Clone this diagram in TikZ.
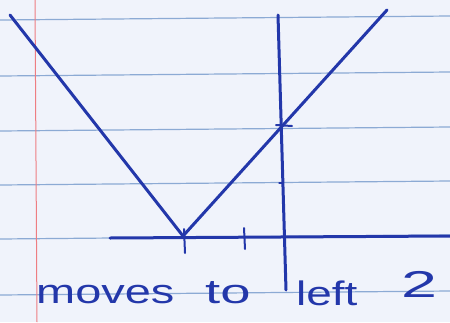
\documentclass[tikz,border=0pt]{standalone}
\usepackage{fontspec}
\usepackage{graphicx}
\setmainfont{Liberation Sans}
\definecolor{ink}{RGB}{35,55,170}
\definecolor{paper}{RGB}{240,243,251}
\definecolor{rulecol}{RGB}{140,170,212}
\definecolor{margincol}{RGB}{238,125,130}
\tikzset{
  inkline/.style={draw=ink,line width=3pt,line cap=round},
  thintick/.style={draw=ink,line width=2pt,line cap=round},
  ruleline/.style={draw=rulecol,line width=1.2pt},
  hand/.style={text=ink,font=\fontsize{34}{34}\selectfont,anchor=base west,inner sep=0pt}
}
\begin{document}
\begin{tikzpicture}[x=1pt,y=-1pt]
\fill[paper] (0,0) rectangle (450,322);
\useasboundingbox (0,0) rectangle (450,322);
% ruled paper
\foreach \yy in {18,74,129,183,237,293}
  \draw[ruleline] (0,\yy+2) -- (450,\yy-2);
\draw[draw=margincol,line width=1pt] (35,0) -- (37,322);
% graph
\coordinate (L) at (10,15);
\coordinate (V) at (183,236);
\coordinate (R) at (387,10);
\coordinate (Ytop) at (278,15);
\coordinate (Ybot) at (286,290);
\coordinate (Xl) at (110,238);
\coordinate (Xr) at (450,236);
\draw[inkline] (Xl) -- (Xr);
\draw[inkline] (Ytop) -- (Ybot);
\draw[inkline] (L) -- (V) -- (R);
\coordinate (T1a) at (184,229); \coordinate (T1b) at (185,253);
\coordinate (T2a) at (244,228); \coordinate (T2b) at (245,249);
\draw[thintick] (T1a) -- (T1b);
\draw[thintick] (T2a) -- (T2b);
\coordinate (Y1a) at (276,125); \coordinate (Y1b) at (292,126);
\coordinate (Y2a) at (279,183); \coordinate (Y2b) at (283,183);
\draw[thintick] (Y1a) -- (Y1b);
\draw[thintick,line width=1.2pt] (Y2a) -- (Y2b);
% text
\node[hand] (w1) at (36,303) {\scalebox{1.38}[1]{moves}};
\node[hand] (w2) at (205,303) {\scalebox{1.6}[1]{to}};
\node[hand] (w3) at (296,305) {\scalebox{1.35}[1]{left}};
\node[hand] (w4) at (401,297) {\scalebox{1.9}[1.1]{2}};
\end{tikzpicture}
\end{document}
